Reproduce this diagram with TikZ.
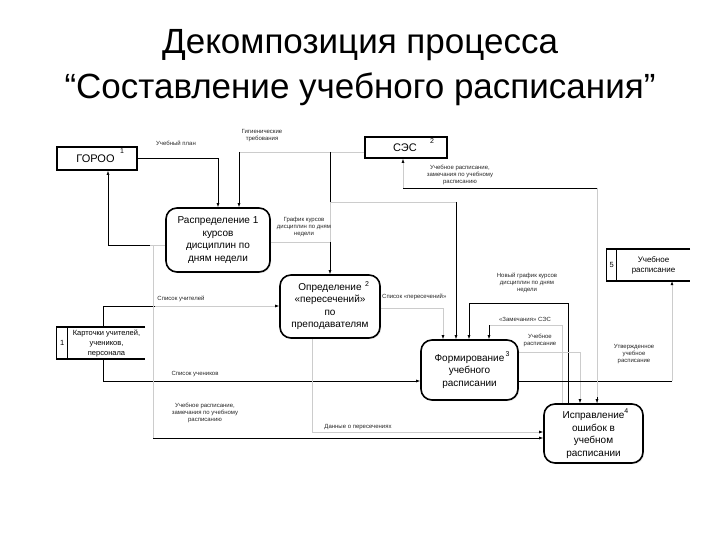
\documentclass[tikz,border=0pt]{standalone}
\usepackage{fontspec}
\setmainfont{Liberation Sans}
\usetikzlibrary{shapes,arrows.meta,positioning,shadows}

\begin{document}
\begin{tikzpicture}[x=1pt,y=-1pt,
  proc/.style={draw, fill=white, line width=1.6pt, rounded corners=11pt, align=center,
    font=\fontsize{10}{12.5}\selectfont, inner sep=0pt,
    drop shadow={shadow xshift=1.2pt, shadow yshift=-1.2pt, opacity=0.2}},
  extent/.style={draw, line width=1.8pt, inner sep=0pt},
  storetxt/.style={align=center, inner sep=0pt, font=\fontsize{7.5}{10}\selectfont},
  storeline/.style={line width=1.5pt},
  flow/.style={-{Latex[length=4pt,width=3pt]}, black, line width=0.6pt},
  line/.style={black, line width=0.6pt},
  faint/.style={black!20, line width=0.6pt},
  faintflow/.style={faint, -{Latex[length=4pt,width=3pt,black]}},
  lbl/.style={align=center, inner sep=0pt, font=\fontsize{6}{7}\selectfont, text=black!85},
  num/.style={inner sep=0pt, font=\fontsize{7}{8}\selectfont}]

\useasboundingbox (0,0) rectangle (720,540);

% title
\node[font=\fontsize{35}{45}\selectfont, align=center] (title) at (360,68)
  {Декомпозиция процесса\\“Составление учебного расписания”};

% external entities
\node[extent, minimum width=80, minimum height=23] (gor) at (97,158.5) {};
\node[inner sep=0pt, font=\fontsize{11}{12}\selectfont] (gor-t) at (95.5,159) {ГОРОО};
\node[num] (gor-n) at (122,151) {1};
\node[extent, minimum width=82, minimum height=21] (ses) at (406,147.5) {};
\node[inner sep=0pt, font=\fontsize{11}{12}\selectfont] (ses-t) at (405,148) {СЭС};
\node[num] (ses-n) at (432,141) {2};

% processes
\node[proc, minimum width=104, minimum height=64] (p1) at (218,240)
  {Распределение 1\\курсов\\дисциплин по\\дням недели};
\node[proc, minimum width=100, minimum height=63] (p2) at (330,306.5)
  {Определение\\«пересечений»\\по\\преподавателям};
\node[num] (p2-n) at (367,284) {2};
\node[proc, minimum width=97, minimum height=60] (p3) at (469.5,370)
  {Формирование\rlap{\raisebox{5pt}{\fontsize{7}{8}\selectfont\,3}}\\учебного\\расписании};
\node[proc, minimum width=99, minimum height=59] (p4) at (593.5,433.5)
  {Исправление\rlap{\raisebox{5pt}{\fontsize{7}{8}\selectfont 4}}\\ошибок в\\учебном\\расписании};

% data stores
\node[storetxt, minimum width=77, minimum height=32] (ds1) at (106.5,343)
  {Карточки учителей,\\учеников,\\персонала};
\node[storetxt, minimum width=11, minimum height=32, left=0pt of ds1] (ds1-n) {1};
\draw[storeline] (ds1.north east) -- (ds1-n.north west) -- (ds1-n.south west) -- (ds1.south east);
\draw[line width=1pt] (ds1-n.north east) -- (ds1-n.south east);
\node[storetxt, font=\fontsize{8}{10}\selectfont, minimum width=73, minimum height=32] (ds5) at (653.5,265)
  {Учебное\\расписание};
\node[storetxt, minimum width=10, minimum height=32, left=0pt of ds5] (ds5-n) {5};
\draw[storeline] (ds5.north east) -- (ds5-n.north west) -- (ds5-n.south west) -- (ds5.south east);
\draw[line width=1pt] (ds5-n.north east) -- (ds5-n.south east);

% ГОРОО -> 1
\draw[flow] (gor.east) -| (p1.north);
\node[lbl] (l-plan) at (176,143) {Учебный план};

% СЭС -> 1
\coordinate (c-gig) at (239,152);
\draw[faint] (ses.west |- c-gig) -- (c-gig);
\draw[flow] (c-gig) -- (c-gig |- p1.north);
\node[lbl] (l-gig) at (262,136) {Гигиенические\\требования};

% СЭС -> 3
\coordinate (c-a) at (330,152);
\coordinate (c-b) at (330,202);
\coordinate (c-c) at (456,202);
\draw[line] (c-a) -- (c-b);
\draw[faint] (c-b) -- (c-c);
\draw[flow] (c-c) -- (c-c |- p3.north);

% 1 -> 2
\coordinate (c-gr) at (330,242);
\draw[faint] (p1.east |- c-gr) -- (c-gr) -- (c-b);
\draw[flow] (c-gr) -- (p2.north);
\node[lbl] (l-graf) at (304,227) {График курсов\\дисциплин по дням\\недели};

% 1 -> ГОРОО
\coordinate (c-r) at (150,245);
\draw[faint] (p1.west |- c-r) -- (c-r);
\draw[flow] (c-r) -| ([xshift=11pt]gor.south);

% карточки -> 2
\coordinate (c-t) at (103,306);
\coordinate (c-t2) at (155,306);
\draw[line] (c-t |- ds1.north) -- (c-t) -- (c-t2);
\draw[faintflow] (c-t2) -- (c-t2 -| p2.west);
\node[lbl] (l-uch) at (181,299) {Список учителей};

% карточки -> 3
\coordinate (c-u) at (103,381);
\draw[flow] (c-u |- ds1.south) -- (c-u) -- (c-u -| p3.west);
\node[lbl] (l-ucn) at (195,374) {Список учеников};

% 2 -> 3
\coordinate (c-p) at (443,308);
\draw[faintflow] (p2.east |- c-p) -- (c-p) -- (c-p |- p3.north);
\node[lbl, anchor=west] (l-per) at (382,297) {Список «пересечений»};

% 4 -> 3
\coordinate (c-n1) at (568,303);
\coordinate (c-n2) at (469,303);
\draw[flow] (c-n1 |- p4.north) -- (c-n1) -- (c-n2) -- (c-n2 |- p3.north);
\node[lbl] (l-new) at (527,283) {Новый график курсов\\дисциплин по дням\\недели};

% замечания -> 3
\coordinate (c-z1) at (489,325);
\coordinate (c-z2) at (562,325);
\draw[faint] (c-z2 |- p4.north) -- (c-z2) -- (c-z1);
\draw[flow] (c-z1) -- (c-z1 |- p3.north);
\node[lbl] (l-zam) at (525,319) {«Замечания» СЭС};

% 3 -> 4
\coordinate (c-y) at (580,352);
\draw[faintflow] (p3.east |- c-y) -- (c-y) -- (c-y |- p4.north);
\node[lbl] (l-rasp) at (540,340) {Учебное\\расписание};

% 3 -> учебное расписание
\coordinate (c-v) at (672,381);
\draw[line] (p3.east |- c-v) -- (c-v);
\draw[faintflow] (c-v) -- (c-v |- ds5.south);
\node[lbl] (l-utv) at (634,354) {Утвержденное\\учебное\\расписание};

% 4 <-> СЭС
\coordinate (c-s1) at (597,188);
\coordinate (c-s2) at (403,188);
\draw[faint] (c-s1 |- p4.north) -- (c-s1);
\draw[line] (c-s1) -- (c-s2);
\draw[faintflow] (c-s2) -- (c-s2 |- ses.south);
\draw[flow] ([yshift=6pt]c-s1 |- p4.north) -- (c-s1 |- p4.north);
\node[lbl] (l-ses) at (460,175) {Учебное расписание,\\замечания по учебному\\расписанию};

% 2 -> 4
\coordinate (c-d) at (312,432);
\draw[faintflow] (c-d |- p2.south) -- (c-d) -- (c-d -| p4.west);
\node[lbl] (l-dan) at (358,427) {Данные о пересечениях};

% замечания -> 4
\coordinate (c-e1) at (153,245);
\coordinate (c-e2) at (153,438);
\draw[faint] (c-e1) -- (c-e2);
\draw[flow] (c-e2) -- (c-e2 -| p4.west);
\node[lbl] (l-zam2) at (205,413) {Учебное расписание,\\замечания по учебному\\расписанию};

\end{tikzpicture}
\end{document}
